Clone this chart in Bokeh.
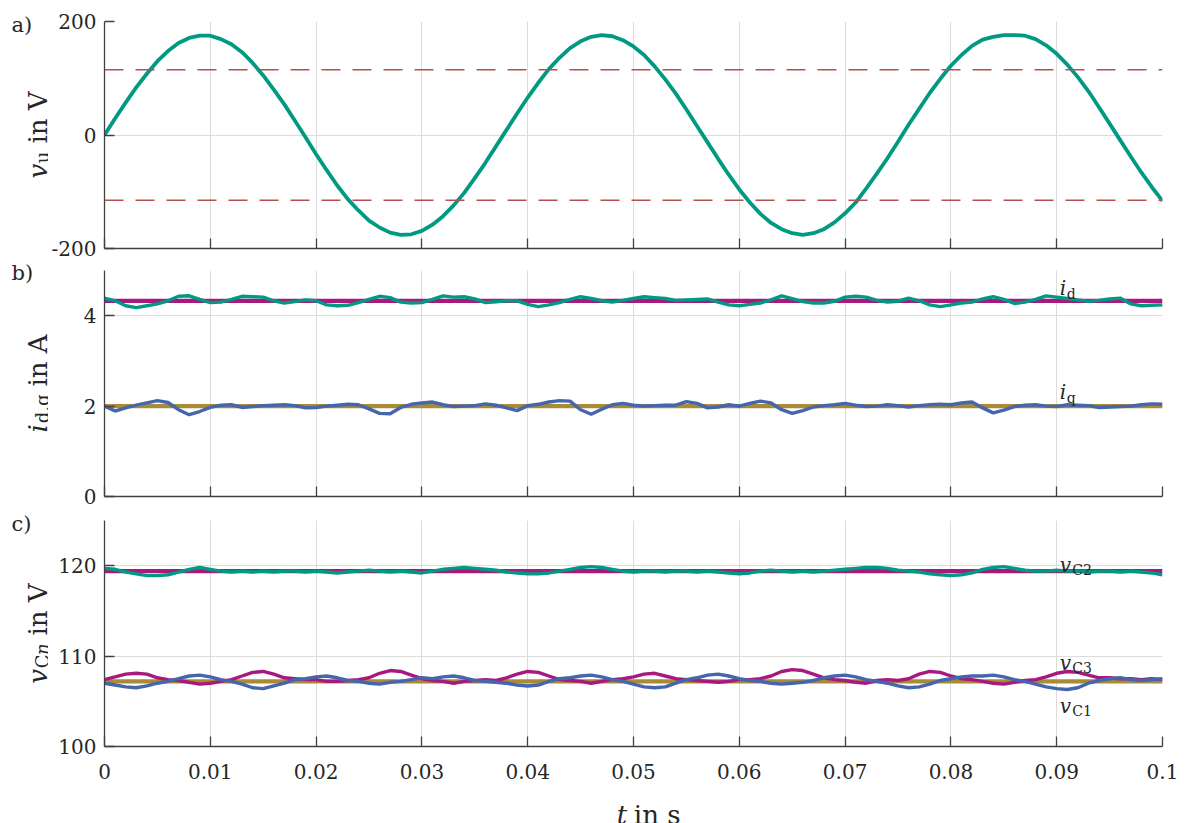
import math
from bokeh.plotting import figure
from bokeh.layouts import column, row
from bokeh.models import Range1d, FixedTicker, CustomJSTickFormatter, Label, Span
from bokeh.embed import file_html
from bokeh.resources import INLINE

# ---------------- data ----------------
t = [i / 1000 for i in range(101)]  # sample times in s (1 ms grid)

x_ticks = [0, 0.01, 0.02, 0.03, 0.04, 0.05, 0.06, 0.07, 0.08, 0.09, 0.1]

# panel a: phase voltage v_u in V
v_u = [0, 29, 57, 84, 108, 130, 148, 162, 171, 175,
       175, 169, 160, 146, 127, 105, 80, 54, 25, -4,
       -34, -62, -89, -113, -133, -151, -163, -172, -176, -175,
       -169, -158, -143, -124, -102, -76, -49, -20, 9, 38,
       66, 92, 116, 136, 153, 165, 173, 176, 174, 167,
       156, 141, 121, 98, 73, 45, 16, -13, -42, -70,
       -96, -119, -139, -155, -166, -173, -176, -173, -166, -154,
       -138, -119, -94, -68, -41, -12, 18, 46, 74, 99,
       122, 141, 157, 168, 173, 176, 176, 175, 169, 158,
       143, 124, 102, 77, 49, 20, -9, -38, -66, -92, -116]
v_limits = [115, -115]
a_ticks = [-200, 0, 200]

# panel b: currents in A
i_d = [4.39, 4.33, 4.22, 4.18, 4.22, 4.26, 4.33, 4.43, 4.44, 4.36,
       4.29, 4.30, 4.36, 4.43, 4.42, 4.41, 4.33, 4.28, 4.31, 4.35,
       4.33, 4.24, 4.22, 4.23, 4.29, 4.36, 4.43, 4.40, 4.30, 4.28,
       4.29, 4.36, 4.44, 4.41, 4.42, 4.37, 4.29, 4.31, 4.33, 4.33,
       4.25, 4.20, 4.24, 4.29, 4.36, 4.42, 4.38, 4.33, 4.30, 4.34,
       4.38, 4.42, 4.40, 4.38, 4.34, 4.35, 4.36, 4.37, 4.30, 4.24,
       4.22, 4.25, 4.28, 4.35, 4.44, 4.38, 4.31, 4.28, 4.28, 4.32,
       4.41, 4.43, 4.41, 4.34, 4.30, 4.32, 4.39, 4.33, 4.24, 4.20,
       4.24, 4.28, 4.30, 4.37, 4.42, 4.36, 4.27, 4.30, 4.36, 4.44,
       4.41, 4.38, 4.35, 4.32, 4.34, 4.37, 4.39, 4.26, 4.22, 4.23, 4.24]
i_q = [2.00, 1.89, 1.96, 2.02, 2.07, 2.12, 2.08, 1.92, 1.81, 1.88,
       1.97, 2.02, 2.03, 1.97, 1.99, 2.01, 2.02, 2.03, 2.01, 1.96,
       1.97, 2.00, 2.02, 2.04, 2.03, 1.94, 1.84, 1.83, 1.97, 2.04,
       2.07, 2.09, 2.03, 1.99, 2.00, 2.01, 2.05, 2.02, 1.96, 1.90,
       2.01, 2.04, 2.09, 2.12, 2.11, 1.92, 1.82, 1.93, 2.03, 2.06,
       2.02, 2.00, 2.01, 2.02, 2.02, 2.10, 2.06, 1.96, 1.98, 2.03,
       2.00, 2.06, 2.11, 2.07, 1.92, 1.84, 1.90, 1.98, 2.01, 2.03,
       2.06, 2.02, 1.99, 2.00, 2.03, 2.01, 1.98, 2.01, 2.03, 2.04,
       2.03, 2.07, 2.09, 1.96, 1.85, 1.91, 1.99, 2.02, 2.03, 2.00,
       1.99, 2.03, 2.02, 2.01, 1.97, 1.98, 1.99, 2.00, 2.03, 2.05, 2.04]
i_d_ref = 4.33
i_q_ref = 2.0
b_ticks = [0, 2, 4]

# panel c: capacitor voltages in V
v_C2 = [119.7, 119.6, 119.3, 119.1, 118.9, 118.9, 119.0, 119.3, 119.6, 119.8,
        119.6, 119.4, 119.3, 119.4, 119.3, 119.4, 119.3, 119.4, 119.4, 119.3,
        119.4, 119.3, 119.2, 119.3, 119.4, 119.5, 119.4, 119.3, 119.4, 119.3,
        119.2, 119.4, 119.6, 119.7, 119.8, 119.7, 119.6, 119.5, 119.3, 119.2,
        119.1, 119.1, 119.2, 119.4, 119.6, 119.8, 119.9, 119.8, 119.6, 119.4,
        119.3, 119.4, 119.4, 119.3, 119.4, 119.4, 119.3, 119.4, 119.3, 119.2,
        119.1, 119.2, 119.4, 119.5, 119.4, 119.3, 119.4, 119.3, 119.4, 119.5,
        119.6, 119.7, 119.8, 119.8, 119.7, 119.5, 119.4, 119.3, 119.1, 119.0,
        118.9, 119.0, 119.2, 119.6, 119.8, 119.9, 119.7, 119.5, 119.4, 119.4,
        119.5, 119.4, 119.4, 119.3, 119.4, 119.4, 119.3, 119.4, 119.3, 119.2, 119.0]
v_C3 = [107.4, 107.7, 108.0, 108.1, 108.0, 107.6, 107.4, 107.3, 107.1, 106.9,
        107.0, 107.2, 107.4, 107.8, 108.2, 108.3, 108.0, 107.6, 107.5, 107.4,
        107.4, 107.2, 107.2, 107.3, 107.4, 107.6, 108.1, 108.4, 108.3, 107.9,
        107.5, 107.3, 107.2, 107.0, 107.2, 107.3, 107.4, 107.3, 107.6, 108.0,
        108.3, 108.2, 107.8, 107.4, 107.3, 107.2, 107.0, 107.2, 107.4, 107.5,
        107.7, 108.0, 108.1, 107.8, 107.5, 107.4, 107.3, 107.2, 107.1, 107.2,
        107.4, 107.4, 107.5, 107.8, 108.3, 108.5, 108.4, 108.0, 107.6, 107.4,
        107.3, 107.1, 107.0, 107.3, 107.4, 107.3, 107.5, 108.0, 108.3, 108.2,
        107.8, 107.5, 107.4, 107.2, 107.0, 106.9, 107.1, 107.3, 107.4, 107.7,
        108.1, 108.3, 108.2, 107.9, 107.6, 107.6, 107.5, 107.5, 107.4, 107.5, 107.4]
v_C1 = [107.0, 106.8, 106.6, 106.5, 106.7, 107.0, 107.2, 107.5, 107.8, 107.9,
        107.7, 107.4, 107.2, 106.9, 106.5, 106.4, 106.7, 107.0, 107.4, 107.5,
        107.7, 107.8, 107.6, 107.3, 107.2, 107.0, 106.9, 107.1, 107.2, 107.4,
        107.6, 107.5, 107.7, 107.8, 107.6, 107.3, 107.2, 107.1, 107.0, 106.8,
        106.7, 106.8, 107.2, 107.5, 107.6, 107.8, 107.9, 107.7, 107.4, 107.2,
        106.9, 106.6, 106.5, 106.6, 107.0, 107.4, 107.6, 107.9, 108.0, 107.8,
        107.5, 107.3, 107.2, 107.0, 106.9, 107.0, 107.1, 107.3, 107.6, 107.8,
        107.9, 107.7, 107.4, 107.2, 107.0, 106.7, 106.5, 106.6, 106.9, 107.3,
        107.5, 107.7, 107.8, 107.8, 107.9, 107.7, 107.4, 107.2, 106.9, 106.6,
        106.4, 106.3, 106.5, 107.0, 107.3, 107.5, 107.6, 107.4, 107.3, 107.4, 107.5]
v_C2_ref = 119.4
v_C13_ref = 107.2
c_ticks = [100, 110, 120]

# ---------------- style ----------------
FONT = "DejaVu Serif"
TXT = "#262626"
TEAL = "#009a83"
MAGENTA = "#a7197f"
BLUE = "#4565ad"
GOLD = "#a98a37"
RED = "#b5504f"
FW = 1058          # frame width
LW = 48            # width of the left label strip
ML = 55            # left border of the plot figures (tick labels)
MR = 25
TOTAL_H = 823

# approximate advance widths of DejaVu Serif (em)
WID = {' ': 0.318, 'i': 0.320, 'n': 0.644, 'V': 0.722, 'A': 0.722, 's': 0.513,
       'd': 0.640, ',': 0.318, 'q': 0.640, 'u': 0.644, 'C': 0.733, '1': 0.636,
       '2': 0.636, '3': 0.636, 'v': 0.592, 't': 0.402, 'a': 0.596, 'b': 0.640,
       'c': 0.560, ')': 0.391}


def tw(s, size):
    return sum(WID.get(c, 0.6) for c in s) * size


xr = Range1d(0, 0.1)


def make_fig(y0, y1, yt, fh, btop, bbot, show_x):
    p = figure(frame_width=FW, frame_height=fh, x_range=xr, y_range=Range1d(y0, y1),
               output_backend="svg", toolbar_location=None,
               min_border_left=ML, min_border_right=MR,
               min_border_top=btop, min_border_bottom=bbot,
               background_fill_color="white", border_fill_color="white")
    p.outline_line_color = None
    p.xaxis.ticker = FixedTicker(ticks=x_ticks)
    p.yaxis.ticker = FixedTicker(ticks=yt)
    p.xgrid.ticker = FixedTicker(ticks=x_ticks)
    p.ygrid.ticker = FixedTicker(ticks=yt)
    p.grid.grid_line_color = "#dcdcdc"
    p.grid.grid_line_width = 1
    for ax in (p.xaxis, p.yaxis):
        ax.major_tick_in = 10
        ax.major_tick_out = 0
        ax.minor_tick_line_color = None
        ax.axis_line_color = "#404040"
        ax.axis_line_width = 1.3
        ax.major_tick_line_color = "#404040"
        ax.major_tick_line_width = 1.3
        ax.major_label_text_font = FONT
        ax.major_label_text_font_size = "20px"
        ax.major_label_text_color = TXT
    p.yaxis.major_label_standoff = 8
    p.yaxis.formatter = CustomJSTickFormatter(code="return tick.toString();")
    if show_x:
        p.xaxis.formatter = CustomJSTickFormatter(
            code=r"return tick.toFixed(2).replace(/\.?0+$/, '');")
        p.xaxis.major_label_standoff = 17
    else:
        p.xaxis.major_label_text_font_size = "1px"
        p.xaxis.major_label_text_color = None
        p.xaxis.major_label_standoff = 0
    return p


def add_label(p, x, y, text, size, italic=False, angle=0.0,
              align="left", baseline="alphabetic", x_offset=0):
    p.add_layout(Label(x=x, y=y, text=text,
                       text_font=FONT, text_font_size=f"{size}px",
                       text_font_style="italic" if italic else "normal",
                       text_color=TXT, angle=angle, text_align=align,
                       text_baseline=baseline, x_offset=x_offset))


def ylabel(p, yc, pieces, xb=37):
    total = sum(tw(s, sz) + g for s, sz, it, sh, g in pieces)
    y = yc - total / 2
    for s, sz, it, sh, g in pieces:
        add_label(p, xb + sh, y, s, sz, italic=it, angle=math.pi / 2)
        y += tw(s, sz) + g


def hlabel(p, x, pieces):
    # pieces: (text, size, italic, y_data, gap_px)
    off = 0
    for s, sz, it, yy, g in pieces:
        add_label(p, x, yy, s, sz, italic=it, x_offset=off)
        off += tw(s, sz) + g


def blank_fig(w, h):
    f = figure(width=w, height=h, x_range=Range1d(0, w), y_range=Range1d(0, h),
               output_backend="svg", toolbar_location=None,
               x_axis_type=None, y_axis_type=None, min_border=0,
               min_border_left=0, min_border_right=0, min_border_top=0,
               min_border_bottom=0, background_fill_color="white",
               border_fill_color="white")
    f.outline_line_color = None
    f.grid.visible = False
    return f


# ---------------- panel a ----------------
FHA, FHB, FHC = 227, 226, 226
pa = make_fig(-200, 200, a_ticks, FHA, 21, 11, False)
for lim in v_limits:
    pa.add_layout(Span(location=lim, dimension="width", line_color=RED,
                       line_width=1.3, line_dash="19 12"))
pa.line(t, v_u, line_color=TEAL, line_width=3.8)

# ---------------- panel b ----------------
pb = make_fig(0, 5, b_ticks, FHB, 11, 12, False)
pb.line([t[0], t[-1]], [i_d_ref, i_d_ref], line_color=MAGENTA, line_width=4.2)
pb.line([t[0], t[-1]], [i_q_ref, i_q_ref], line_color=GOLD, line_width=4.2)
pb.line(t, i_d, line_color=TEAL, line_width=3.4)
pb.line(t, i_q, line_color=BLUE, line_width=3.4)
hlabel(pb, 0.0903, [("i", 20, True, 4.62, 0.5), ("d", 14, False, 4.49, 0)])
hlabel(pb, 0.0903, [("i", 20, True, 2.31, 0.5), ("q", 14, False, 2.18, 0)])

# ---------------- panel c ----------------
pc = make_fig(100, 125, c_ticks, FHC, 12, 42, True)
pc.line([t[0], t[-1]], [v_C2_ref, v_C2_ref], line_color=MAGENTA, line_width=4.2)
pc.line([t[0], t[-1]], [v_C13_ref, v_C13_ref], line_color=GOLD, line_width=4.2)
pc.line(t, v_C2, line_color=TEAL, line_width=3.4)
pc.line(t, v_C3, line_color=MAGENTA, line_width=3.4)
pc.line(t, v_C1, line_color=BLUE, line_width=3.4)
hlabel(pc, 0.0903, [("v", 20, True, 120.05, 0.5), ("C2", 14, False, 119.5, 0)])
hlabel(pc, 0.0903, [("v", 20, True, 109.2, 0.5), ("C3", 14, False, 108.65, 0)])
hlabel(pc, 0.0903, [("v", 20, True, 104.5, 0.5), ("C1", 14, False, 103.95, 0)])

# ---------------- left strip: panel letters and y labels ----------------
lab = blank_fig(LW, TOTAL_H)
ylabel(lab, TOTAL_H - 134.5, [("v", 26, True, 0, 0), ("u", 18, False, 4.5, 8),
                              ("in V", 26, False, 0, 0)])
ylabel(lab, TOTAL_H - 383, [("i", 26, True, 0, 1), ("d,q", 18, False, 4.5, 8),
                            ("in A", 26, False, 0, 0)])
ylabel(lab, TOTAL_H - 633, [("v", 26, True, 0, 0), ("C", 18, False, 4.5, 0),
                            ("n", 18, True, 4.5, 8), ("in V", 26, False, 0, 0)])
add_label(lab, 11, TOTAL_H - 24, "a)", 21, baseline="middle")
add_label(lab, 11, TOTAL_H - 272, "b)", 21, baseline="middle")
add_label(lab, 11, TOTAL_H - 523, "c)", 21, baseline="middle")

# ---------------- bottom strip: x label ----------------
XLH = 35
xlab = blank_fig(ML + FW + MR, XLH)
xl = [("t", 26, True, 8), ("in s", 26, False, 0)]
xw = sum(tw(s, sz) + g for s, sz, it, g in xl)
xx = ML + FW / 2 - xw / 2
for s, sz, it, g in xl:
    add_label(xlab, xx, 9, s, sz, italic=it)
    xx += tw(s, sz) + g

layout = row(lab, column(pa, pb, pc, xlab))
open("out.html", "w").write(file_html(layout, INLINE))
